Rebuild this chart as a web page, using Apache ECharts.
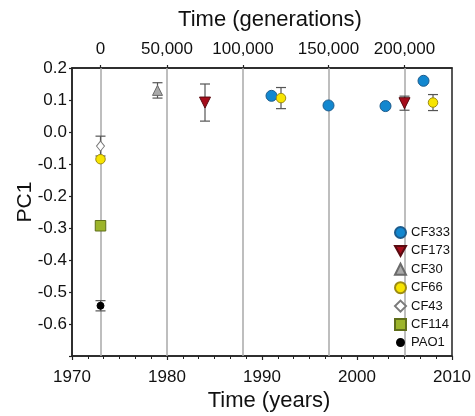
<!DOCTYPE html>
<html>
<head>
<meta charset="utf-8">
<script src="https://cdn.jsdelivr.net/npm/echarts@6/dist/echarts.min.js"></script>
<style>
  html, body { margin: 0; padding: 0; background: #fff; }
  #chart { width: 475px; height: 416px; }
</style>
</head>
<body>
<div id="chart"></div>
<script>
// PC1 scores of isolates by year of sampling (error = +/- spread)
const cf333Years = [1991, 1997, 2003, 2007];
const cf333Pc1 = [0.113, 0.083, 0.081, 0.160];

const cf173Years = [1984, 2005];
const cf173Pc1 = [0.092, 0.090];
const cf173Err = [0.058, 0.022];

const cf30Years = [1979];
const cf30Pc1 = [0.130];
const cf30Err = [0.024];

const cf66Years = [1973, 1992, 2008];
const cf66Pc1 = [-0.085, 0.106, 0.092];
const cf66Err = [0, 0.033, 0.025];

const cf43Years = [1973];
const cf43Pc1 = [-0.044];
const cf43Err = [0.031];

const cf114Years = [1973];
const cf114Pc1 = [-0.293];

const pao1Years = [1973];
const pao1Pc1 = [-0.543];
const pao1Err = [0.016];

// Generation marks on the top axis, placed at their calendar year
const generationYears = [1973, 1980, 1988, 1997, 2005];
const generationLabels = ['0', '50,000', '100,000', '150,000', '200,000'];

const yearTicks = [1970, 1980, 1990, 2000, 2010];

const FONT = "'Liberation Sans', Arial, Helvetica, sans-serif";

function pts(xs, ys) { return xs.map((x, i) => [x, ys[i]]); }
function bars(xs, ys, es) {
  const out = [];
  xs.forEach((x, i) => { if (es[i] > 0) out.push([x, ys[i] - es[i], ys[i] + es[i]]); });
  return out;
}

const errorData = [].concat(
  bars(cf173Years, cf173Pc1, cf173Err),
  bars(cf30Years, cf30Pc1, cf30Err),
  bars(cf66Years, cf66Pc1, cf66Err),
  bars(cf43Years, cf43Pc1, cf43Err),
  bars(pao1Years, pao1Pc1, pao1Err)
);

const chart = echarts.init(document.getElementById('chart'), null, { renderer: 'canvas' });

function scatter(name, data, symbol, size, fill, edge, extra) {
  return Object.assign({
    name: name,
    type: 'scatter',
    xAxisIndex: 0,
    yAxisIndex: 0,
    data: data,
    symbol: symbol,
    symbolSize: size,
    itemStyle: { color: fill, borderColor: edge, borderWidth: 1, opacity: 1 },
    emphasis: { disabled: true },
    z: 3
  }, extra || {});
}

const downTriangle = 'path://M0,0 L10,0 L5,9 Z';

const option = {
  animation: false,
  backgroundColor: '#fff',
  textStyle: { fontFamily: FONT },
  grid: {
    left: 72, right: 23, top: 68, bottom: 60,
    show: true, borderColor: '#222', borderWidth: 1.5, backgroundColor: 'transparent'
  },
  xAxis: [
    {
      type: 'value', position: 'bottom', min: 1970, max: 2010, interval: 10,
      axisLine: { show: true, onZero: false, lineStyle: { color: '#222', width: 1.5 } },
      axisTick: { show: true, inside: false, length: 4, lineStyle: { color: '#222', width: 1.2 } },
      minorTick: { show: true, splitNumber: 6, length: 3, lineStyle: { color: '#222', width: 1 } },
      splitLine: { show: false },
      axisLabel: {
        color: '#111', fontSize: 17, fontFamily: FONT, margin: 13,
        customValues: yearTicks,
        formatter: v => String(v)
      }
    },
    {
      type: 'value', position: 'top', min: 1970, max: 2010,
      axisLine: { show: true, onZero: false, lineStyle: { color: '#222', width: 1.5 } },
      axisTick: { show: true, inside: false, length: 3, customValues: generationYears,
                  lineStyle: { color: '#222', width: 1.2 } },
      splitLine: { show: false },
      axisLabel: {
        color: '#111', fontSize: 17, fontFamily: FONT, margin: 10,
        customValues: generationYears,
        formatter: v => {
          const i = generationYears.indexOf(Math.round(v));
          return i >= 0 ? generationLabels[i] : '';
        }
      }
    }
  ],
  yAxis: {
    type: 'value', min: -0.7, max: 0.2, interval: 0.1,
    axisLine: { show: true, onZero: false, lineStyle: { color: '#222', width: 1.5 } },
    axisTick: { show: true, inside: false, length: 3, lineStyle: { color: '#222', width: 1.2 } },
    splitLine: { show: false },
    axisLabel: {
      color: '#111', fontSize: 17, fontFamily: FONT, margin: 5,
      formatter: v => {
        if (v < -0.65) return '';
        if (Math.abs(v) < 1e-9) return '0.0';
        return v.toFixed(1);
      }
    }
  },
  graphic: [
    {
      type: 'text', x: 270, y: 20,
      style: { text: 'Time (generations)', fontSize: 22, fontFamily: FONT, fill: '#111',
               align: 'center', verticalAlign: 'middle' }
    },
    {
      type: 'text', x: 269, y: 401,
      style: { text: 'Time (years)', fontSize: 22, fontFamily: FONT, fill: '#111',
               align: 'center', verticalAlign: 'middle' }
    },
    {
      type: 'text', x: 25, y: 202, rotation: Math.PI / 2,
      style: { text: 'PC1', fontSize: 21, fontFamily: FONT, fill: '#111',
               align: 'center', verticalAlign: 'middle' }
    }
  ],
  legend: [
    {
      orient: 'vertical', left: 394, top: 226, padding: 0,
      itemWidth: 11, itemHeight: 11, itemGap: 5.4,
      textStyle: { fontSize: 13, fontFamily: FONT, color: '#111' },
      selectedMode: false,
      data: [
        { name: 'CF333' },
        { name: 'CF173', icon: downTriangle },
        { name: 'CF30' },
        { name: 'CF66' },
        { name: 'CF43' },
        { name: 'CF114' }
      ]
    },
    {
      orient: 'vertical', left: 396, top: 336, padding: 0,
      itemWidth: 7, itemHeight: 7, itemGap: 5,
      textStyle: { fontSize: 13, fontFamily: FONT, color: '#111', padding: [0, 0, 0, 2] },
      selectedMode: false,
      data: ['PAO1']
    }
  ],
  series: [
    {
      // vertical reference lines at the generation marks
      name: 'gens', type: 'line', data: [], xAxisIndex: 1, yAxisIndex: 0,
      markLine: {
        silent: true, symbol: ['none', 'none'], z: 1, animation: false,
        label: { show: false },
        lineStyle: { color: '#a8a8a8', width: 1.5, type: 'solid' },
        data: generationYears.map(y => ({ xAxis: y }))
      }
    },
    {
      name: 'error', type: 'custom', xAxisIndex: 0, yAxisIndex: 0, z: 2,
      silent: true,
      data: errorData,
      renderItem: function (params, api) {
        const x = api.value(0);
        const lo = api.coord([x, api.value(1)]);
        const hi = api.coord([x, api.value(2)]);
        const w = 5;
        const st = { stroke: '#555', lineWidth: 1.2 };
        return {
          type: 'group',
          children: [
            { type: 'line', shape: { x1: lo[0], y1: lo[1], x2: hi[0], y2: hi[1] }, style: st },
            { type: 'line', shape: { x1: lo[0] - w, y1: lo[1], x2: lo[0] + w, y2: lo[1] }, style: st },
            { type: 'line', shape: { x1: hi[0] - w, y1: hi[1], x2: hi[0] + w, y2: hi[1] }, style: st }
          ]
        };
      }
    },
    scatter('CF333', pts(cf333Years, cf333Pc1), 'circle', 11, '#1287cf', '#1c5b8c'),
    scatter('CF173', pts(cf173Years, cf173Pc1), 'triangle', 11, '#a50d1c', '#5a0a10', { symbolRotate: 180 }),
    scatter('CF30', pts(cf30Years, cf30Pc1), 'triangle', 10, '#a9a9a9', '#6a6a6a'),
    scatter('CF66', pts(cf66Years, cf66Pc1), 'circle', 9.5, '#f7e400', '#9c8b12'),
    scatter('CF43', pts(cf43Years, cf43Pc1), 'diamond', [8, 10], '#ffffff', '#7a7a7a'),
    scatter('CF114', pts(cf114Years, cf114Pc1), 'rect', 10.5, '#9cb42a', '#5f6e1a'),
    scatter('PAO1', pts(pao1Years, pao1Pc1), 'circle', 7, '#000000', '#000000')
  ]
};

chart.setOption(option);
</script>
</body>
</html>
